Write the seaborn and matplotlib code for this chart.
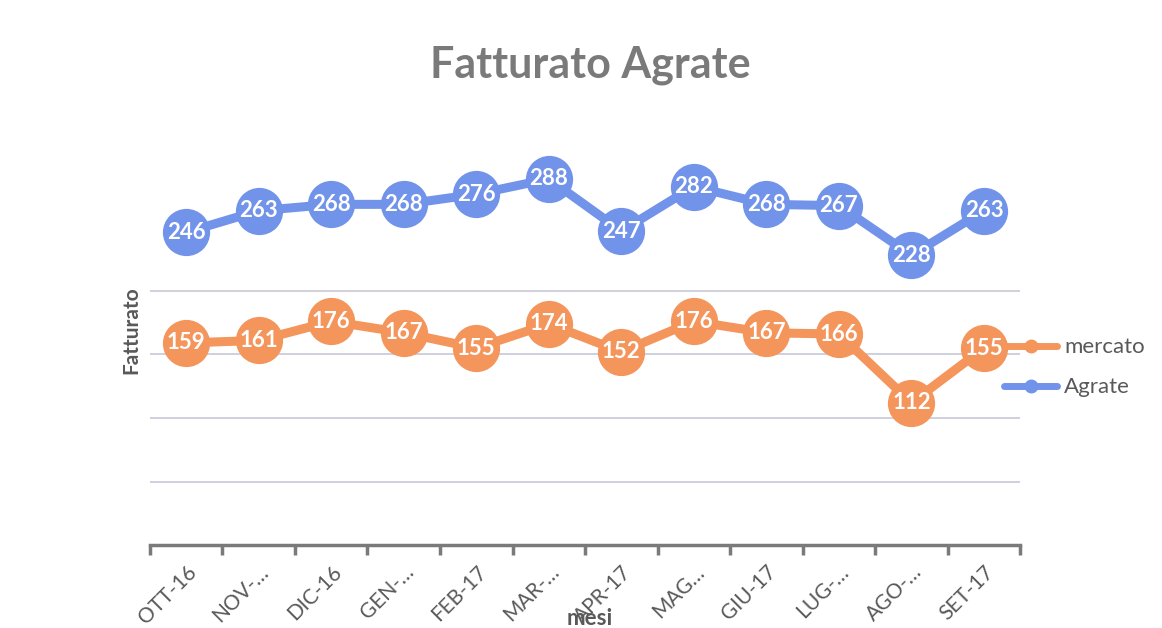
import pandas as pd
import numpy as np
import matplotlib.pyplot as plt
import seaborn as sns
from matplotlib.lines import Line2D

mesi = ['OTT-16', 'NOV-…', 'DIC-16', 'GEN-…', 'FEB-17', 'MAR-…',
        'APR-17', 'MAG…', 'GIU-17', 'LUG-…', 'AGO-…', 'SET-17']
mercato = [159, 161, 176, 167, 155, 174, 152, 176, 167, 166, 112, 155]
agrate = [246, 263, 268, 268, 276, 288, 247, 282, 268, 267, 228, 263]

df = pd.DataFrame({
    'mesi': mesi * 2,
    'pos': list(range(len(mesi))) * 2,
    'Fatturato': mercato + agrate,
    'serie': ['mercato'] * len(mesi) + ['Agrate'] * len(mesi),
})

sns.set_style('white')
plt.rcParams['font.family'] = ['Lato', 'DejaVu Sans']

colori = {'mercato': '#f4955c', 'Agrate': '#7293ea'}

fig = plt.figure(figsize=(11.62, 6.28), dpi=100)
ax = fig.add_axes([0.129, 0.132, 0.749, 0.658])

sns.lineplot(data=df, x='pos', y='Fatturato', hue='serie', hue_order=['mercato', 'Agrate'],
             palette=colori, marker='o', markersize=34, linewidth=6.5,
             markeredgewidth=0, ax=ax, legend=False, zorder=3)

# etichette dei valori
for serie, valori in [('mercato', mercato), ('Agrate', agrate)]:
    for i, v in enumerate(valori):
        ax.text(i, v, str(v), ha='center', va='center', color='white',
                fontsize=16, fontweight='bold', zorder=5)

ax.set_xlim(-0.5, len(mesi) - 0.5)
ax.set_ylim(0, 325)
ax.set_yticks([50, 100, 150, 200])
ax.yaxis.grid(True, color='#c8c8d8', linewidth=1.2)
ax.tick_params(axis='y', left=False, labelleft=False)

ax.set_xticks(range(len(mesi)))
ax.set_xticklabels(mesi, rotation=45, ha='right', rotation_mode='anchor',
                   fontsize=15, color='#595959')
ax.set_xticks(np.arange(-0.5, len(mesi)), minor=True)
ax.tick_params(axis='x', which='major', bottom=False, length=0, pad=12)
ax.tick_params(axis='x', which='minor', bottom=True, length=7, width=2.5,
               color='#7a7a7a', direction='out')

for s in ['top', 'right', 'left']:
    ax.spines[s].set_visible(False)
ax.spines['bottom'].set_color('#7a7a7a')
ax.spines['bottom'].set_linewidth(2.5)

ax.set_xlabel('mesi', fontsize=16, fontweight='bold', color='#595959')
ax.xaxis.set_label_coords(0.505, -0.152)
ax.set_ylabel('Fatturato', fontsize=15, fontweight='bold', color='#595959')
ax.yaxis.set_label_coords(-0.01, 0.52)

fig.text(0.508, 0.896, 'Fatturato Agrate', ha='center', va='center',
         fontsize=31, fontweight='bold', color='#7a7a7a')

maniglie = [Line2D([0], [0], color=colori[k], linewidth=5, marker='o', markersize=9)
            for k in ['mercato', 'Agrate']]
fig.legend(maniglie, ['mercato', 'Agrate'], loc='center left',
           bbox_to_anchor=(0.864, 0.415), frameon=False, fontsize=16,
           labelcolor='#595959', handlelength=2.4, labelspacing=0.9, handletextpad=0.3,
           borderaxespad=0, borderpad=0)

fig.savefig('out.png', dpi=100)
